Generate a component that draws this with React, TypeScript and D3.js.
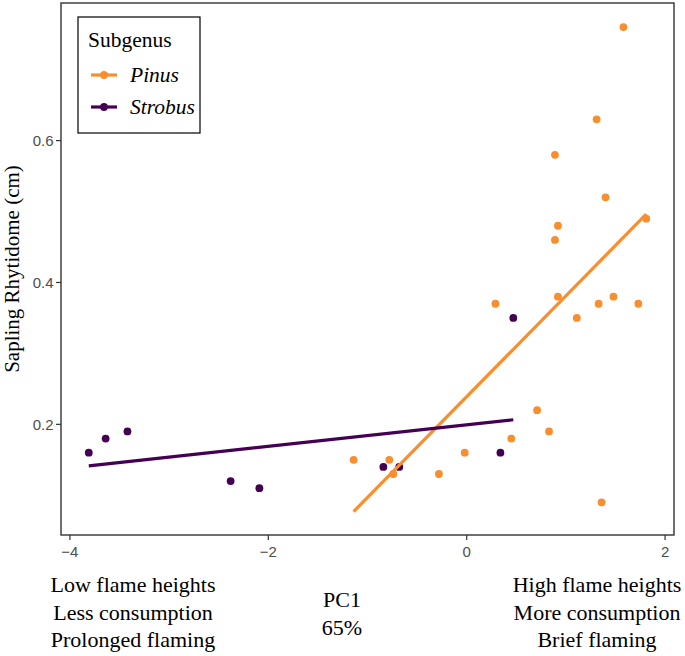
import React from "react";
import * as d3 from "d3";

const pinusX = [1.58, 1.31, 0.89, 1.40, 1.81, 0.92, 0.89, 0.92, 1.11, 1.33, 1.48, 1.73, 0.71, 0.83, 1.36, 0.29, -1.14, -0.78, -0.74, -0.28, -0.02, 0.45];
const pinusY = [0.76, 0.63, 0.58, 0.52, 0.49, 0.48, 0.46, 0.38, 0.35, 0.37, 0.38, 0.37, 0.22, 0.19, 0.09, 0.37, 0.15, 0.15, 0.13, 0.13, 0.16, 0.18];
const strobusX = [-3.81, -3.64, -3.42, -2.38, -2.09, -0.84, -0.68, 0.34, 0.47];
const strobusY = [0.16, 0.18, 0.19, 0.12, 0.11, 0.14, 0.14, 0.16, 0.35];

const xTicks = [-4, -2, 0, 2];
const yTicks = [0.2, 0.4, 0.6];
const groups = ["Pinus", "Strobus"];
const colors = ["#F98E2E", "#440154"];
const leftText = ["Low flame heights", "Less consumption", "Prolonged flaming"];
const rightText = ["High flame heights", "More consumption", "Brief flaming"];
const centerText = ["PC1", "65%"];

function fit(xs: number[], ys: number[]) {
  const mx = d3.mean(xs)!;
  const my = d3.mean(ys)!;
  let sxy = 0, sxx = 0;
  xs.forEach((x, i) => { sxy += (x - mx) * (ys[i] - my); sxx += (x - mx) * (x - mx); });
  const b = sxy / sxx;
  const a = my - b * mx;
  const [x0, x1] = d3.extent(xs) as [number, number];
  return [[x0, a + b * x0], [x1, a + b * x1]] as [number, number][];
}

export default function App() {
  const L = 61, R = 674, T = 3, B = 535;
  const x = d3.scaleLinear().domain([-4.09, 2.09]).range([L, R]);
  const y = d3.scaleLinear().domain([0.044, 0.794]).range([B, T]);
  const line = d3.line<[number, number]>().x(d => x(d[0])).y(d => y(d[1]));
  const data = [
    { xs: pinusX, ys: pinusY, c: colors[0] },
    { xs: strobusX, ys: strobusY, c: colors[1] },
  ];
  const serif = "'Liberation Serif', 'Times New Roman', serif";
  const sans = "'Liberation Sans', Arial, sans-serif";
  const fmt = (v: number) => (v < 0 ? "\u2212" + Math.abs(v) : String(v));
  return (
    <svg width={685} height={656} style={{ position: "absolute", left: 0, top: 0, background: "#fff" }}>
      <rect x={0} y={0} width={685} height={656} fill="#fff" />
      {data.map((g, gi) => (
        <g key={"p" + gi}>
          {g.xs.map((v, i) => (
            <circle key={i} cx={x(v)} cy={y(g.ys[i])} r={3.9} fill={g.c} />
          ))}
        </g>
      ))}
      {data.map((g, gi) => (
        <path key={"l" + gi} d={line(fit(g.xs, g.ys)) || ""} fill="none" stroke={g.c} strokeWidth={3.2} />
      ))}
      <rect x={L} y={T} width={R - L} height={B - T} fill="none" stroke="#333" strokeWidth={1.4} />
      {yTicks.map(t => (
        <g key={"y" + t}>
          <line x1={L - 5} x2={L} y1={y(t)} y2={y(t)} stroke="#333" strokeWidth={1.2} />
          <text x={L - 7.5} y={y(t)} dy="0.35em" textAnchor="end" fontFamily={sans} fontSize={15} fill="#4d4d4d">{t.toFixed(1)}</text>
        </g>
      ))}
      {xTicks.map(t => (
        <g key={"x" + t}>
          <line x1={x(t)} x2={x(t)} y1={B} y2={B + 5} stroke="#333" strokeWidth={1.2} />
          <text x={x(t)} y={557} textAnchor="middle" fontFamily={sans} fontSize={15} fill="#4d4d4d">{fmt(t)}</text>
        </g>
      ))}
      <text transform={`translate(19,${(T + B) / 2}) rotate(-90)`} textAnchor="middle" fontFamily={serif} fontSize={21} fill="#000">Sapling Rhytidome (cm)</text>
      {leftText.map((s, i) => (
        <text key={"lt" + i} x={133} y={592 + i * 27.5} textAnchor="middle" fontFamily={serif} fontSize={22} fill="#000">{s}</text>
      ))}
      {rightText.map((s, i) => (
        <text key={"rt" + i} x={597} y={592 + i * 27.5} textAnchor="middle" fontFamily={serif} fontSize={22} fill="#000">{s}</text>
      ))}
      {centerText.map((s, i) => (
        <text key={"ct" + i} x={342} y={607 + i * 28} textAnchor="middle" fontFamily={serif} fontSize={22} fill="#000">{s}</text>
      ))}
      <rect x={78} y={17} width={122} height={116} fill="#fff" stroke="#000" strokeWidth={1.2} />
      <text x={88} y={47} fontFamily={serif} fontSize={21.5} fill="#000">Subgenus</text>
      {groups.map((gname, i) => (
        <g key={"lg" + i}>
          <line x1={91} x2={117} y1={75 + i * 32} y2={75 + i * 32} stroke={colors[i]} strokeWidth={3.2} />
          <circle cx={104} cy={75 + i * 32} r={3.9} fill={colors[i]} />
          <text x={130} y={82 + i * 32} fontFamily={serif} fontStyle="italic" fontSize={21.5} fill="#000">{gname}</text>
        </g>
      ))}
    </svg>
  );
}
